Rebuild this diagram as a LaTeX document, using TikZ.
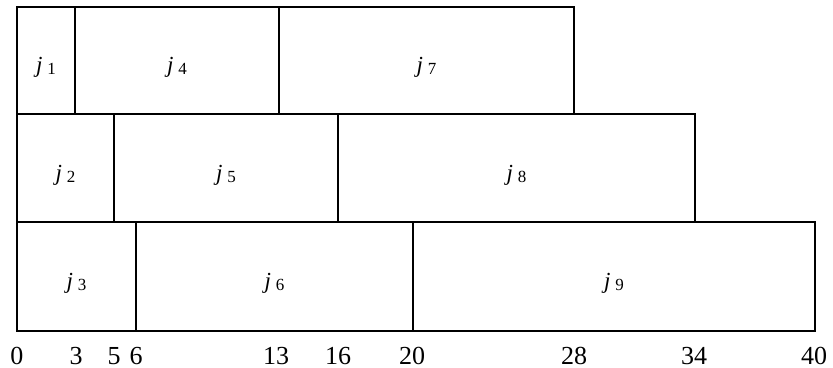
\documentclass[tikz,border=0pt]{standalone}
\usepackage{fontspec}
\setmainfont{Liberation Serif}
\usetikzlibrary{fit,positioning}
\newcommand{\jlab}[1]{\textit{j}\hspace{2.5pt}\raisebox{-1pt}{\fontsize{8.5}{10}\selectfont #1}}
\tikzset{
  job/.style  = {draw, line width=0.55pt, inner sep=0pt},
  jtext/.style = {inner sep=0pt, yshift=-3.5pt, font=\fontsize{11.5}{13}\selectfont},
  tick/.style = {inner sep=0pt, font=\fontsize{13}{15}\selectfont},
}
\begin{document}
\begin{tikzpicture}[x=0.5pt, y=-0.5pt]
\useasboundingbox (0,0) rectangle (833,368);
% row 1
\node[job, fit={(17,7) (75,114)},   label={[jtext]center:\jlab{1}}] (j1) {};
\node[job, fit={(75,7) (279,114)},  label={[jtext]center:\jlab{4}}] (j4) {};
\node[job, fit={(279,7) (574,114)}, label={[jtext]center:\jlab{7}}] (j7) {};
% row 2
\node[job, fit={(17,114) (114,222)},  label={[jtext]center:\jlab{2}}] (j2) {};
\node[job, fit={(114,114) (338,222)}, label={[jtext]center:\jlab{5}}] (j5) {};
\node[job, fit={(338,114) (695,222)}, label={[jtext]center:\jlab{8}}] (j8) {};
% row 3
\node[job, fit={(17,222) (136,331)},  label={[jtext]center:\jlab{3}}] (j3) {};
\node[job, fit={(136,222) (413,331)}, label={[jtext]center:\jlab{6}}] (j6) {};
\node[job, fit={(413,222) (815,331)}, label={[jtext]center:\jlab{9}}] (j9) {};
% time axis
\node[tick] (t0)  at (17,356)  {0};
\node[tick] (t3)  at (76,356)  {3};
\node[tick] (t5)  at (114,356) {5};
\node[tick] (t6)  at (136,356) {6};
\node[tick] (t13) at (276,356) {13};
\node[tick] (t16) at (338,356) {16};
\node[tick] (t20) at (412,356) {20};
\node[tick] (t28) at (574,356) {28};
\node[tick] (t34) at (694,356) {34};
\node[tick] (t40) at (814,356) {40};
\end{tikzpicture}
\end{document}
